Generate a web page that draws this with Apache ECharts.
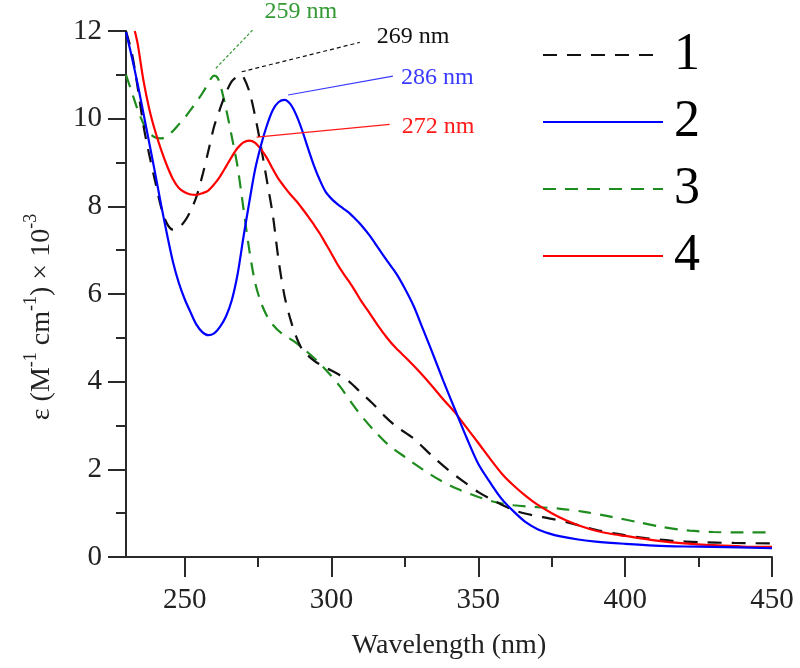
<!DOCTYPE html>
<html>
<head>
<meta charset="utf-8">
<script src="https://cdn.jsdelivr.net/npm/echarts@6/dist/echarts.min.js"></script>
<style>
html,body{margin:0;padding:0;background:#fff;}
#chart{width:800px;height:668px;}
</style>
</head>
<body>
<div id="chart"></div>
<script>
// ---- Data ----
var seriesNames = ['1', '2', '3', '4'];

var wl1  = [230,232,234,236,238,240,242,244,246,248,250,252,254,256,258,260,262,264,266,268,269,270,272,274,276,278,280,282,284,286,288,290,294,298,302,306,310,314,318,322,328,334,340,345,350,356,362,368,375,382,390,398,407,416,425,437,450];
var eps1 = [12.0,11.5,10.7,9.82,9.15,8.55,7.97,7.6,7.47,7.52,7.66,7.9,8.22,8.7,9.25,9.82,10.22,10.58,10.85,10.97,11.0,10.95,10.62,10.05,9.35,8.58,7.8,6.75,5.95,5.42,5.02,4.74,4.48,4.32,4.18,4.0,3.75,3.5,3.22,2.98,2.7,2.32,1.97,1.72,1.48,1.26,1.07,0.96,0.87,0.76,0.62,0.52,0.43,0.37,0.34,0.32,0.31];

var wl2  = [230,232,234,236,238,240,242,244,246,248,250,252,254,256,258,260,262,264,266,268,270,272,274,276,278,280,282,284,286,288,290,292,294,296,298,300,302,304,306,308,310,313,316,319,322,325,328,331,334,338,342,346,350,354,358,362,366,370,374,378,384,390,400,410,420,430,450];
var eps2 = [11.98,11.4,10.78,10.1,9.42,8.73,8.02,7.35,6.73,6.25,5.88,5.58,5.3,5.13,5.06,5.1,5.25,5.48,5.85,6.45,7.3,8.1,8.85,9.4,9.85,10.2,10.38,10.43,10.33,10.08,9.73,9.32,8.93,8.6,8.33,8.17,8.05,7.95,7.85,7.72,7.58,7.33,7.04,6.75,6.47,6.12,5.72,5.22,4.72,4.03,3.37,2.72,2.12,1.7,1.32,1.04,0.8,0.64,0.54,0.47,0.4,0.35,0.3,0.26,0.24,0.23,0.2];

var wl3  = [230,232,234,236,238,240,242,244,246,248,250,252,254,256,258,259,260,261,262,264,266,268,270,272,274,276,278,280,283,287,291,295,299,303,307,311,315,319,325,331,337,343,350,356,362,370,378,386,395,404,413,422,430,440,450];
var eps3 = [11.0,10.6,10.2,9.88,9.67,9.57,9.55,9.6,9.72,9.87,10.02,10.2,10.38,10.58,10.8,10.92,10.98,10.95,10.8,10.25,9.6,8.9,7.95,7.0,6.25,5.8,5.5,5.3,5.1,4.93,4.72,4.48,4.2,3.88,3.5,3.15,2.85,2.58,2.28,2.0,1.75,1.55,1.37,1.25,1.18,1.14,1.1,1.03,0.92,0.8,0.68,0.6,0.57,0.56,0.56];

var wl4  = [233,234,236,238,240,242,244,246,248,250,252,254,256,258,260,262,264,266,268,270,272,274,276,278,280,282,284,286,288,290,292,294,296,298,300,302,304,306,308,310,313,316,319,322,326,330,334,338,342,346,350,354,358,362,366,370,375,380,385,390,395,400,410,420,430,440,450];
var eps4 = [12.0,11.7,10.85,10.2,9.7,9.28,8.92,8.62,8.42,8.32,8.27,8.26,8.3,8.36,8.5,8.68,8.9,9.13,9.33,9.46,9.5,9.45,9.3,9.1,8.85,8.62,8.44,8.27,8.12,7.95,7.77,7.58,7.38,7.15,6.92,6.68,6.47,6.28,6.07,5.85,5.56,5.26,4.99,4.76,4.5,4.22,3.92,3.6,3.3,2.95,2.6,2.24,1.9,1.63,1.4,1.2,1.0,0.83,0.7,0.6,0.53,0.48,0.38,0.31,0.27,0.24,0.23];

// Tick values
var xMajorTicks = [250, 300, 350, 400, 450];
var xMinorTicks = [275, 325, 375, 425];

// Peak annotations (data coordinates)
var annoText  = ['259 nm', '269 nm', '286 nm', '272 nm'];
var annoStart = [[260.6, 11.15], [269.4, 11.07], [285.2, 10.54], [274.5, 9.58]];
var annoEnd   = [[273.1, 12.02], [309.6, 11.74], [320.9, 10.97], [319.8, 9.87]];

// ---- Styles ----
var colors = ['#111111', '#0000ff', '#1e8c1e', '#ff0000'];
var lineTypes = [[14, 10], 'solid', [13, 9], 'solid'];
var annoColors = ['#339933', '#111111', '#3a3aff', '#ff1a1a'];
var annoLineTypes = [[3, 2], [4, 3], 'solid', 'solid'];
var annoOffsets = [[12, -18], [17, -6], [8, 2], [12, 2]];
var serif = '"Liberation Serif", "Times New Roman", "DejaVu Serif", serif';

function pairs(xs, ys) { return xs.map(function (x, i) { return [x, ys[i]]; }); }
var allData = [pairs(wl1, eps1), pairs(wl2, eps2), pairs(wl3, eps3), pairs(wl4, eps4)];

var chart = echarts.init(document.getElementById('chart'), null, {renderer: 'canvas'});

var series = seriesNames.map(function (n, i) {
  return {
    name: n,
    type: 'line',
    xAxisIndex: 0,
    yAxisIndex: 0,
    data: allData[i],
    showSymbol: false,
    symbol: 'none',
    smooth: 0.3,
    lineStyle: {color: colors[i], width: 2.2, type: lineTypes[i]},
    itemStyle: {color: colors[i]},
    z: [2, 4, 1, 3][i]
  };
});

var axisLineStyle = {color: '#2a2a2a', width: 2};

var option = {
  animation: false,
  backgroundColor: '#fff',
  grid: {left: 126, right: 28, top: 31, bottom: 111, containLabel: false},
  legend: {
    data: seriesNames,
    orient: 'vertical',
    left: 542,
    top: 29,
    padding: 0,
    itemWidth: 120,
    itemHeight: 14,
    itemGap: 15,
    itemStyle: {opacity: 0, borderWidth: 0, color: 'transparent'},
    textStyle: {fontFamily: serif, fontSize: 52, color: '#000', lineHeight: 50, padding: [0, 0, 0, 6]},
    selectedMode: false
  },
  xAxis: [{
    type: 'value',
    min: 230,
    max: 450,
    position: 'bottom',
    name: 'Wavelength (nm)',
    nameLocation: 'middle',
    nameGap: 75,
    nameTextStyle: {fontFamily: serif, fontSize: 28, color: '#222'},
    axisLine: {show: true, lineStyle: axisLineStyle},
    axisTick: {show: true, inside: false, length: 20, customValues: xMajorTicks, lineStyle: axisLineStyle},
    axisLabel: {show: true, margin: 29, customValues: xMajorTicks, fontFamily: serif, fontSize: 29, color: '#222'},
    splitLine: {show: false}
  }, {
    type: 'value',
    min: 230,
    max: 450,
    position: 'bottom',
    axisLine: {show: false},
    axisTick: {show: true, inside: false, length: 10, customValues: xMinorTicks, lineStyle: axisLineStyle},
    axisLabel: {show: false},
    splitLine: {show: false}
  }],
  yAxis: {
    type: 'value',
    min: 0,
    max: 12,
    interval: 2,
    name: '{b|ε (M}{s|-1}{b| cm}{s|-1}{b|) × 10}{s|-3}',
    nameLocation: 'middle',
    nameGap: 70,
    nameRotate: 90,
    nameTextStyle: {
      padding: [0, 46, 0, 0],
      rich: {
        b: {fontFamily: serif, fontSize: 28, color: '#222', lineHeight: 34, verticalAlign: 'bottom'},
        s: {fontFamily: serif, fontSize: 18, color: '#222', lineHeight: 18, verticalAlign: 'top'}
      }
    },
    axisLine: {show: true, lineStyle: axisLineStyle},
    axisTick: {show: true, inside: false, length: 18, lineStyle: axisLineStyle},
    minorTick: {show: true, splitNumber: 2, length: 10, lineStyle: axisLineStyle},
    axisLabel: {margin: 24, fontFamily: serif, fontSize: 29, color: '#222'},
    splitLine: {show: false},
    minorSplitLine: {show: false}
  },
  series: series
};

chart.setOption(option);

// Peak annotations: leader lines + labels, positioned through the axes
function drawAnnotations() {
  var els = [];
  annoText.forEach(function (t, i) {
    var p0 = chart.convertToPixel({xAxisIndex: 0, yAxisIndex: 0}, annoStart[i]);
    var p1 = chart.convertToPixel({xAxisIndex: 0, yAxisIndex: 0}, annoEnd[i]);
    els.push({
      type: 'line',
      shape: {x1: p0[0], y1: p0[1], x2: p1[0], y2: p1[1]},
      style: {stroke: annoColors[i], lineWidth: 1.2, lineDash: annoLineTypes[i] === 'solid' ? null : annoLineTypes[i]},
      z: 10
    });
    els.push({
      type: 'text',
      x: p1[0] + annoOffsets[i][0],
      y: p1[1] + annoOffsets[i][1],
      style: {text: t, fill: annoColors[i], font: '24px ' + serif, textAlign: 'left', textVerticalAlign: 'middle'},
      z: 10
    });
  });
  chart.setOption({graphic: {elements: els}});
}
drawAnnotations();
</script>
</body>
</html>
